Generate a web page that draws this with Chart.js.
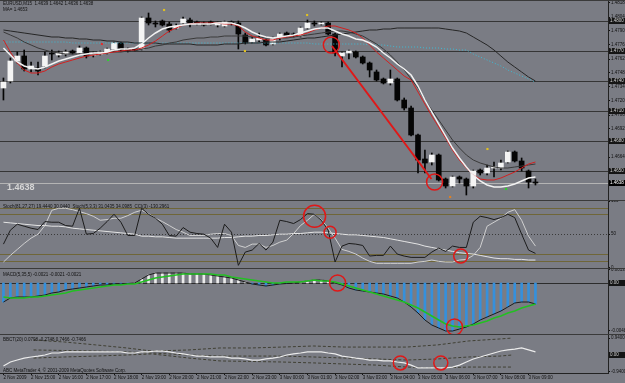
<!DOCTYPE html>
<html>
<head>
<meta charset="utf-8">
<script src="https://cdn.jsdelivr.net/npm/chart.js@4.4.1/dist/chart.umd.min.js"></script>
<style>
  html, body { margin: 0; padding: 0; background: #7a7c84; }
  #wrap { position: relative; width: 625px; height: 383px; overflow: hidden; background: #7a7c84; }
  canvas { position: absolute; left: 0; }
  .sep { position: absolute; left: 0; width: 625px; height: 1px; background: #3a3a3a; }
</style>
</head>
<body>
<div id="wrap">
  <canvas id="cMain" width="625" height="201" style="top:0"></canvas>
  <canvas id="cStoch" width="625" height="67" style="top:201px"></canvas>
  <canvas id="cMacd" width="625" height="67" style="top:268px"></canvas>
  <canvas id="cBand" width="625" height="48" style="top:335px"></canvas>
  <div class="sep" style="top:0"></div>
  <div class="sep" style="top:200px"></div>
  <div class="sep" style="top:268px"></div>
  <div class="sep" style="top:334px"></div>
</div>
<script>
// hourly time labels, one every 4 candles (M15)
const timeTicks = ['2 Nov 2009', '2 Nov 15:00', '2 Nov 16:00', '2 Nov 17:00', '2 Nov 18:00', '2 Nov 19:00',
  '2 Nov 20:00', '2 Nov 21:00', '2 Nov 22:00', '2 Nov 23:00', '3 Nov 00:00', '3 Nov 01:00', '3 Nov 02:00',
  '3 Nov 03:00', '3 Nov 04:00', '3 Nov 05:00', '3 Nov 06:00', '3 Nov 07:00', '3 Nov 08:00', '3 Nov 09:00'];
const slotCount = 88;

// EURUSD M15 candles
const open = [1.4733,1.4740,1.4760,1.4765,1.4752,1.4753,1.4755,1.4767,1.4766,1.4767,
  1.4770,1.4768,1.4773,1.4766,1.4767,1.4768,1.4772,1.4778,1.4772,1.4771,
  1.4772,1.4803,1.4798,1.4800,1.4797,1.4793,1.4798,1.4801,1.4799,1.4798,
  1.4799,1.4796,1.4795,1.4798,1.4798,1.4786,1.4779,1.4781,1.4781,1.4777,
  1.4783,1.4788,1.4786,1.4785,1.4793,1.4798,1.4797,1.4798,1.4787,1.4765,
  1.4768,1.4769,1.4764,1.4758,1.4749,1.4742,1.4738,1.4742,1.4721,1.4713,
  1.4686,1.4662,1.4659,1.4666,1.4642,1.4635,1.4644,1.4642,1.4635,1.4651,
  1.4648,1.4653,1.4653,1.4659,1.4669,1.4660,1.4650,1.4639];
const high = [1.4743,1.4763,1.4769,1.4771,1.4759,1.4759,1.4769,1.4771,1.4770,1.4771,
  1.4771,1.4775,1.4774,1.4769,1.4770,1.4773,1.4779,1.4779,1.4773,1.4772,
  1.4804,1.4808,1.4800,1.4801,1.4799,1.4797,1.4804,1.4803,1.4800,1.4799,
  1.4800,1.4799,1.4800,1.4800,1.4800,1.4788,1.4784,1.4788,1.4782,1.4784,
  1.4788,1.4789,1.4788,1.4794,1.4801,1.4800,1.4799,1.4799,1.4788,1.4769,
  1.4771,1.4770,1.4765,1.4759,1.4751,1.4743,1.4751,1.4743,1.4723,1.4715,
  1.4687,1.4671,1.4668,1.4667,1.4643,1.4645,1.4645,1.4643,1.4651,1.4652,
  1.4656,1.4659,1.4661,1.4670,1.4670,1.4663,1.4651,1.4642];
const low = [1.4721,1.4738,1.4758,1.4750,1.4749,1.4746,1.4753,1.4761,1.4764,1.4765,
  1.4767,1.4766,1.4763,1.4764,1.4766,1.4767,1.4771,1.4770,1.4769,1.4770,
  1.4771,1.4796,1.4794,1.4795,1.4789,1.4792,1.4797,1.4794,1.4796,1.4795,
  1.4796,1.4794,1.4794,1.4796,1.4772,1.4777,1.4778,1.4779,1.4775,1.4776,
  1.4781,1.4784,1.4784,1.4784,1.4792,1.4795,1.4796,1.4786,1.4765,1.4754,
  1.4762,1.4763,1.4757,1.4744,1.4740,1.4737,1.4736,1.4720,1.4711,1.4685,
  1.4648,1.4648,1.4656,1.4640,1.4633,1.4634,1.4638,1.4626,1.4633,1.4646,
  1.4646,1.4644,1.4651,1.4658,1.4659,1.4650,1.4633,1.4636];
const close = [1.4739,1.4760,1.4765,1.4752,1.4755,1.4750,1.4765,1.4767,1.4768,1.4769,
  1.4768,1.4773,1.4765,1.4767,1.4769,1.4772,1.4778,1.4771,1.4770,1.4771,
  1.4803,1.4798,1.4797,1.4796,1.4791,1.4795,1.4802,1.4798,1.4798,1.4796,
  1.4797,1.4798,1.4799,1.4798,1.4787,1.4778,1.4782,1.4783,1.4776,1.4783,
  1.4787,1.4785,1.4786,1.4793,1.4798,1.4797,1.4798,1.4787,1.4768,1.4768,
  1.4770,1.4764,1.4758,1.4751,1.4741,1.4738,1.4742,1.4721,1.4713,1.4686,
  1.4661,1.4658,1.4666,1.4641,1.4635,1.4644,1.4642,1.4635,1.4650,1.4648,
  1.4653,1.4654,1.4658,1.4669,1.4660,1.4653,1.4639,1.4638];

// moving averages on the price chart
const maWhite = [1.4773,1.4766,1.4759,1.4755,1.4753,1.4752,1.4754,1.4757,1.4760,1.4762,
  1.4764,1.4766,1.4767,1.4768,1.4768,1.4769,1.4771,1.4772,1.4772,1.4773,
  1.4777,1.4783,1.4788,1.4792,1.4794,1.4795,1.4796,1.4797,1.4797,1.4797,
  1.4797,1.4798,1.4798,1.4798,1.4796,1.4793,1.4789,1.4786,1.4784,1.4783,
  1.4784,1.4785,1.4786,1.4788,1.4790,1.4792,1.4793,1.4793,1.4790,1.4787,
  1.4785,1.4782,1.4781,1.4778,1.4774,1.4768,1.4763,1.4757,1.4752,1.4746,
  1.4735,1.4721,1.4709,1.4697,1.4685,1.4673,1.4663,1.4654,1.4646,1.4640,
  1.4636,1.4634,1.4634,1.4635,1.4637,1.4640,1.4643,1.4644];
const maRed = [1.4781,1.4769,1.4758,1.4751,1.4748,1.4748,1.4750,1.4754,1.4757,1.4759,
  1.4761,1.4763,1.4765,1.4766,1.4767,1.4768,1.4769,1.4770,1.4771,1.4771,
  1.4773,1.4776,1.4780,1.4785,1.4790,1.4793,1.4796,1.4797,1.4798,1.4798,
  1.4798,1.4798,1.4797,1.4797,1.4795,1.4789,1.4785,1.4783,1.4781,1.4781,
  1.4783,1.4784,1.4785,1.4786,1.4788,1.4791,1.4793,1.4795,1.4795,1.4793,
  1.4791,1.4788,1.4783,1.4776,1.4769,1.4763,1.4757,1.4751,1.4745,1.4741,
  1.4729,1.4717,1.4705,1.4694,1.4683,1.4671,1.4661,1.4653,1.4646,1.4642,
  1.4641,1.4641,1.4643,1.4646,1.4649,1.4653,1.4657,1.4659];
const maDark = [1.4789,1.4786,1.4783,1.4779,1.4776,1.4773,1.4771,1.4769,1.4768,1.4767,
  1.4767,1.4767,1.4767,1.4767,1.4768,1.4768,1.4769,1.4769,1.4770,1.4770,
  1.4772,1.4773,1.4775,1.4776,1.4778,1.4779,1.4781,1.4782,1.4783,1.4783,
  1.4784,1.4784,1.4785,1.4785,1.4785,1.4785,1.4784,1.4784,1.4783,1.4783,
  1.4783,1.4783,1.4784,1.4785,1.4786,1.4787,1.4788,1.4789,1.4790,1.4790,
  1.4789,1.4787,1.4785,1.4781,1.4777,1.4772,1.4766,1.4759,1.4751,1.4742,
  1.4733,1.4721,1.4711,1.4701,1.4691,1.4681,1.4673,1.4666,1.4661,1.4658,
  1.4656,1.4654,1.4653,1.4653,1.4654,1.4655,1.4656,1.4657];
const maSlow = [1.4791,1.4790,1.4789,1.4788,1.4787,1.4786,1.4785,1.4784,1.4784,1.4783,
  1.4783,1.4782,1.4782,1.4781,1.4781,1.4780,1.4780,1.4779,1.4779,1.4778,
  1.4778,1.4778,1.4778,1.4777,1.4777,1.4777,1.4777,1.4777,1.4776,1.4776,
  1.4776,1.4776,1.4777,1.4777,1.4777,1.4778,1.4778,1.4778,1.4779,1.4779,
  1.4779,1.4780,1.4781,1.4782,1.4783,1.4783,1.4784,1.4785,1.4786,1.4787,
  1.4788,1.4789,1.4790,1.4791,1.4791,1.4792,1.4792,1.4793,1.4793,1.4793,
  1.4793,1.4793,1.4793,1.4793,1.4792,1.4791,1.4790,1.4788,1.4784,1.4780,
  1.4776,1.4771,1.4765,1.4759,1.4754,1.4749,1.4744,1.4740];
const envCyan = [1.4779,1.4779,1.4779,1.4779,1.4779,1.4779,1.4779,1.4779,1.4779,1.4779,
  1.4778,1.4778,1.4778,1.4778,1.4778,1.4778,1.4778,1.4778,1.4778,1.4778,
  1.4778,1.4778,1.4778,1.4778,1.4778,1.4778,1.4778,1.4778,1.4778,1.4778,
  1.4778,1.4778,1.4778,1.4778,1.4778,1.4778,1.4778,1.4778,1.4778,1.4778,
  1.4778,1.4778,1.4778,1.4778,1.4778,1.4777,1.4777,1.4777,1.4777,1.4777,
  1.4777,1.4777,1.4777,1.4776,1.4776,1.4776,1.4775,1.4774,1.4774,1.4774,
  1.4774,1.4773,1.4773,1.4773,1.4772,1.4772,1.4771,1.4771,1.4767,1.4764,
  1.4761,1.4758,1.4755,1.4751,1.4748,1.4745,1.4742,1.4739];

// fractal marks
const fractalIdx = [11, 12, 21, 34, 44, 67, 73, 76];
const fractalPrice = [1.4777, 1.4761, 1.4811, 1.4770, 1.4806, 1.4624, 1.4672, 1.4632];
const fractalColor = ['#e03030', '#30d030', '#e0c020', '#e0c020', '#e0c020', '#e08020', '#e0c020', '#30d030'];

// drawn objects
const mainLevels = [1.4800, 1.4770, 1.4740, 1.4710, 1.4680, 1.4650];
const bidPrice = 1.4638;
const trendIdx = [48, 64];
const trendPrice = [1.4775, 1.4642];
const mainCircleIdx = [47.9, 64.5];
const mainCirclePrice = [1.4776, 1.4639];

// stochastic pane
const stochK = [35,56,65,62,59,57,69,68,68,63,62,89,50,51,59,69,80,68,48,48,
  89,80,74,65,48,47,60,53,51,50,44,30,65,53,3,23,26,36,26,38,
  71,69,66,72,81,80,71,56,8,32,36,35,33,17,18,18,32,20,17,15,
  15,15,23,29,24,32,30,30,68,77,75,72,75,80,75,50,26,21];
const stochD = [8,18,27,36,44,50,63,86,89,89,87,84,81,77,71,72,74,74,78,83,
  86,81,74,69,63,57,53,48,48,48,50,51,51,48,33,30,35,35,30,33,
  38,41,51,63,71,80,72,59,44,27,24,20,14,9,6,6,6,6,6,6,
  8,9,11,9,8,8,11,12,18,30,62,68,74,83,87,71,47,32];
const stochSlow = [68,67,66,65,64,63,63,62,62,61,59,58,57,56,55,54,53,52,51,50,
  47,47,46,46,45,44,44,44,44,44,44,44,45,45,46,47,47,48,48,49,
  50,50,51,51,52,53,53,52,51,50,49,49,48,47,46,45,43,41,39,37,
  35,32,30,28,26,24,22,21,20,18,16,14,13,13,12,12,11,11];
const stochLevels = [90, 80, 50, 20, 10];
const stochCircleIdx = [45.2, 47.7, 68.7];
const stochCircleVal = [77, 53, 17];

// MACD pane
const macdMain = [-0.0019,-0.0015,-0.0014,-0.0014,-0.0014,-0.0013,-0.0012,-0.0010,-0.0009,-0.0007,
  -0.0006,-0.0005,-0.0004,-0.0003,-0.0002,-0.0002,-0.0001,-0.0001,-0.00005,0.0000,
  0.0004,0.0008,0.0010,0.0010,0.0010,0.0010,0.0010,0.0009,0.0009,0.0009,
  0.0008,0.0007,0.0006,0.0005,0.0003,0.0001,-0.0001,-0.0002,-0.0003,-0.0002,
  -0.0001,-0.00005,0.0000,0.0001,0.0002,0.0003,0.0003,0.0002,0.0000,-0.0002,
  -0.0005,-0.0007,-0.0008,-0.0009,-0.0010,-0.0011,-0.0013,-0.0015,-0.0019,-0.0024,
  -0.0030,-0.0037,-0.0042,-0.0045,-0.0048,-0.0048,-0.0046,-0.0044,-0.0041,-0.0037,
  -0.0034,-0.0031,-0.0028,-0.0024,-0.0020,-0.0019,-0.0019,-0.0021];
const macdSignal = [-0.0014,-0.0015,-0.0015,-0.0015,-0.0014,-0.0014,-0.0013,-0.0012,-0.0011,-0.0010,
  -0.0008,-0.0007,-0.0006,-0.0005,-0.0004,-0.0003,-0.0002,-0.0002,-0.0001,-0.0001,
  0.0001,0.0003,0.0005,0.0006,0.0007,0.0008,0.0009,0.0009,0.0009,0.0009,
  0.0009,0.0008,0.0008,0.0006,0.0005,0.0004,0.0003,0.0002,0.0001,0.0000,
  0.0000,0.0001,0.0001,0.0001,0.0002,0.0003,0.0002,0.0002,0.0001,-0.0001,
  -0.0003,-0.0005,-0.0007,-0.0009,-0.0011,-0.0013,-0.0015,-0.0017,-0.0019,-0.0022,
  -0.0025,-0.0029,-0.0033,-0.0037,-0.0041,-0.0043,-0.0044,-0.0043,-0.0042,-0.0040,
  -0.0038,-0.0035,-0.0033,-0.0030,-0.0028,-0.0025,-0.0023,-0.0021];
const macdCircleIdx = [48.9, 67.7];
const macdCircleVal = [0, -0.0044];

// band oscillator pane
const oscWhite = [-0.61,-0.39,-0.28,-0.17,-0.11,-0.06,0,0.11,0.11,0.17,
  0.17,0.17,0.17,0.17,0.17,0.17,0.17,0.17,0.11,0.11,
  0.17,0.17,0.22,0.22,0.17,0.11,0.06,0,-0.06,-0.06,
  -0.11,-0.11,-0.11,-0.17,-0.17,-0.22,-0.28,-0.28,-0.22,-0.17,
  -0.11,0,0.06,0.11,0.17,0.17,0.17,0.11,0.06,-0.06,
  -0.11,-0.17,-0.22,-0.28,-0.28,-0.33,-0.33,-0.39,-0.44,-0.56,
  -0.72,-0.72,-0.72,-0.72,-0.72,-0.67,-0.56,-0.39,-0.22,-0.11,
  0,0.11,0.22,0.28,0.33,0.39,0.28,0.17];
const bandIdx = [0, 5, 10, 15, 19, 25, 30, 35, 40, 45, 50, 55, 60, 65, 70, 75, 77];
const bandUpper = [0.83,0.72,0.56,0.39,0.22,0.28,0.39,0.39,0.44,0.5,0.44,0.44,0.44,0.56,0.78,0.89,0.94];
const bandMid = [0.28,0.25,0.22,0.17,0.11,0,-0.06,-0.06,-0.06,-0.11,-0.17,-0.22,-0.28,-0.22,-0.11,-0.06,0];
const bandLower = [-0.17,-0.11,-0.06,0,0.06,-0.17,-0.33,-0.36,-0.39,-0.44,-0.5,-0.56,-0.67,-0.72,-0.67,-0.67,-0.67];
const oscCircleIdx = [59, 65.5];
const oscCircleVal = [-0.44, -0.44];

// tick labels of the right axes
const mainTicks = [1.4818, 1.4804, 1.4790, 1.4776, 1.4762, 1.4748, 1.4734, 1.4720, 1.4706, 1.4692, 1.4678, 1.4664];
const stochTicks = [100, 50, 0];
const macdTicks = [0.0013, -0.0048];
const oscTicks = [0.94, -0.94];

const slotLabels = [];
for (let i = 0; i < slotCount; i++) slotLabels.push(i % 4 === 0 && timeTicks[i / 4] ? timeTicks[i / 4] : '');

const tiny = { family: 'Liberation Sans', size: 4.5 };

const deco = {
  id: 'deco',
  beforeDatasetsDraw(chart, args, opts) {
    const { ctx, chartArea: a } = chart;
    const y = chart.scales.y;
    ctx.save();
    (opts.lines || []).forEach(l => {
      const py = Math.round(y.getPixelForValue(l.value)) + 0.5;
      ctx.strokeStyle = l.color;
      ctx.lineWidth = l.width || 1;
      ctx.setLineDash(l.dash ? [1, 2] : []);
      ctx.beginPath();
      ctx.moveTo(a.left, py);
      ctx.lineTo(a.right, py);
      ctx.stroke();
    });
    ctx.restore();
  },
  afterDraw(chart, args, opts) {
    const { ctx, chartArea: a } = chart;
    const y = chart.scales.y;
    ctx.save();
    ctx.textBaseline = 'middle';
    (opts.boxes || []).forEach(b => {
      const py = Math.round(y.getPixelForValue(b.value));
      ctx.fillStyle = b.bg;
      ctx.fillRect(a.right + 1, py - 3, 17, 6);
      ctx.fillStyle = b.fg;
      ctx.font = '4.5px "Liberation Sans"';
      ctx.fillText(b.text, a.right + 2, py);
    });
    (opts.texts || []).forEach(t => {
      ctx.fillStyle = t.color || '#111';
      ctx.font = t.font || '4.5px "Liberation Sans"';
      ctx.fillText(t.text, t.x, t.y);
    });
    ctx.restore();
  }
};

function xAxis(show) {
  return {
    type: 'category', offset: true, display: show,
    afterFit(s) { if (show) { s.height = 10; s.paddingLeft = 0; s.paddingRight = 0; } },
    grid: { offset: false, drawOnChartArea: false, tickLength: 2,
      color: c => (c.tick && c.tick.label ? '#111' : 'rgba(0,0,0,0)') },
    border: { color: '#222' },
    ticks: { autoSkip: false, maxRotation: 0, minRotation: 0, align: 'start', padding: 0,
      color: '#111', font: tiny, callback: (v, i) => slotLabels[i] }
  };
}

function yAxis(min, max, tickVals, fmt) {
  return {
    position: 'right', min, max,
    afterFit(s) { s.width = 17; s.paddingTop = 0; s.paddingBottom = 0; },
    afterBuildTicks(s) { s.ticks = tickVals.map(v => ({ value: v })); },
    grid: { drawOnChartArea: false, tickLength: 2, color: '#111' },
    border: { color: '#222' },
    ticks: { autoSkip: false, padding: 1, color: '#111', font: tiny, callback: fmt }
  };
}

function pane(id, datasets, yScale, showX, decoOpts) {
  return new Chart(document.getElementById(id), {
    type: 'bar',
    data: { labels: slotLabels, datasets },
    options: {
      responsive: false, animation: false, devicePixelRatio: 1,
      layout: { padding: 0, autoPadding: false },
      plugins: { legend: { display: false }, tooltip: { enabled: false }, deco: decoOpts },
      scales: {
        x: xAxis(showX),
        xo: { type: 'linear', display: false, min: -0.5, max: slotCount - 0.5 },
        y: yScale
      }
    },
    plugins: [deco]
  });
}

const line = (data, color, width, order, extra) => Object.assign({
  type: 'line', data, xAxisID: 'x', borderColor: color, borderWidth: width,
  pointRadius: 0, fill: false, tension: 0, order
}, extra || {});

const xyLine = (idx, vals, color, width, order, extra) => Object.assign({
  type: 'line', data: idx.map((x, i) => ({ x, y: vals[i] })), xAxisID: 'xo',
  borderColor: color, borderWidth: width, pointRadius: 0, fill: false, tension: 0, order
}, extra || {});

const circles = (idx, vals, radii, order) => ({
  type: 'scatter', data: idx.map((x, i) => ({ x, y: vals[i] })), xAxisID: 'xo',
  pointStyle: 'circle', pointRadius: radii, pointBorderColor: '#e01818', pointBorderWidth: 1.5,
  pointBackgroundColor: 'rgba(0,0,0,0)', order
});

// main price pane
const bodies = open.map((o, i) => [Math.min(o, close[i]), Math.max(o, close[i])]);
const wicks = low.map((l, i) => [l, high[i]]);
const bodyColors = open.map((o, i) => (close[i] > o ? '#f4f4f4' : '#050505'));

pane('cMain', [
  { type: 'scatter', data: fractalIdx.map((x, i) => ({ x, y: fractalPrice[i] })), xAxisID: 'xo',
    pointStyle: 'rect', pointRadius: 1.5, pointBackgroundColor: fractalColor, pointBorderWidth: 0, order: 0 },
  circles(mainCircleIdx, mainCirclePrice, [8, 8], 1),
  xyLine(trendIdx, trendPrice, '#e01818', 2, 2),
  line(maWhite, '#f2f2f2', 1.5, 3),
  line(maRed, '#d42020', 1, 4),
  line(maDark, '#3a3a3a', 1, 5),
  line(maSlow, '#262626', 1, 6),
  line(envCyan, '#3cbcd6', 1, 7, { borderDash: [1, 2] }),
  { type: 'bar', data: bodies, xAxisID: 'x', backgroundColor: bodyColors, barThickness: 5,
    grouped: false, minBarLength: 1, borderWidth: 0, order: 8 },
  { type: 'bar', data: wicks, xAxisID: 'x', backgroundColor: '#050505', barThickness: 1,
    grouped: false, borderWidth: 0, order: 9 }
], yAxis(1.4620, 1.4821, mainTicks, v => v.toFixed(4)), false, {
  lines: mainLevels.map(v => ({ value: v, color: '#353535' })).concat([{ value: bidPrice, color: '#b4b4b4' }]),
  boxes: mainLevels.map(v => ({ value: v, text: v.toFixed(4), bg: '#151515', fg: '#cfcfcf' }))
    .concat([{ value: bidPrice, text: bidPrice.toFixed(4), bg: '#000', fg: '#fff' }]),
  texts: [
    { text: 'EURUSD,M15  1.4639 1.4642 1.4636 1.4638', x: 3, y: 4 },
    { text: 'MA= 1.4653', x: 3, y: 10 },
    { text: '1.4638', x: 7, y: 188, color: '#d6d6d6', font: 'bold 9px "Liberation Sans"' }
  ]
});

// stochastic pane
pane('cStoch', [
  circles(stochCircleIdx, stochCircleVal, [11, 6, 7], 0),
  line(stochK, '#1c1c1c', 1, 1),
  line(stochD, '#d0d0d0', 1, 2),
  line(stochSlow, '#e4e4e4', 1, 3)
], yAxis(-1, 100, stochTicks, v => String(v)), false, {
  lines: stochLevels.map(v => ({ value: v, color: v === 50 ? '#3a3a3a' : '#6f6638', dash: v === 50 })),
  texts: [{ text: 'Stoch(81,27,27) 19.4440 30.0440  Stoch(5,3,3) 31.0435 34.0985  CCI(3) -130.2961', x: 3, y: 6 }]
});

// MACD pane
pane('cMacd', [
  circles(macdCircleIdx, macdCircleVal, [8, 8], 0),
  line(macdSignal, '#22c022', 1.5, 1),
  line(macdMain, '#1c1c1c', 1, 2),
  { type: 'bar', data: macdMain, xAxisID: 'x', barThickness: 2, grouped: false, borderWidth: 0,
    backgroundColor: macdMain.map(v => (v >= 0 ? '#ececec' : '#3590dc')), order: 3 }
], yAxis(-0.0052, 0.0015, macdTicks, v => v.toFixed(4)), false, {
  lines: [{ value: 0, color: '#2c2c2c' }],
  boxes: [{ value: 0, text: '0.00', bg: '#151515', fg: '#cfcfcf' }],
  texts: [{ text: 'MACD(5,35,5) -0.0021 -0.0021 -0.0021', x: 3, y: 7 }]
});

// band oscillator pane with time axis
pane('cBand', [
  circles(oscCircleIdx, oscCircleVal, [7, 7], 0),
  line(oscWhite, '#ececec', 1.2, 1),
  xyLine(bandIdx, bandUpper, '#404034', 1, 2, { borderDash: [3, 2] }),
  xyLine(bandIdx, bandMid, '#404034', 1, 3, { borderDash: [3, 2] }),
  xyLine(bandIdx, bandLower, '#404034', 1, 4, { borderDash: [3, 2] })
], yAxis(-1.0, 1.11, oscTicks, v => v.toFixed(4)), true, {
  boxes: [{ value: 0, text: '0.00', bg: '#151515', fg: '#cfcfcf' }],
  texts: [
    { text: 'BBCT(20) 0.0798 -0.2748 0.7466 -0.7466', x: 3, y: 5 },
    { text: 'ABC MetaTrader 4, \u00a9 2001-2009 MetaQuotes Software Corp.', x: 3, y: 36 }
  ]
});
</script>
</body>
</html>
